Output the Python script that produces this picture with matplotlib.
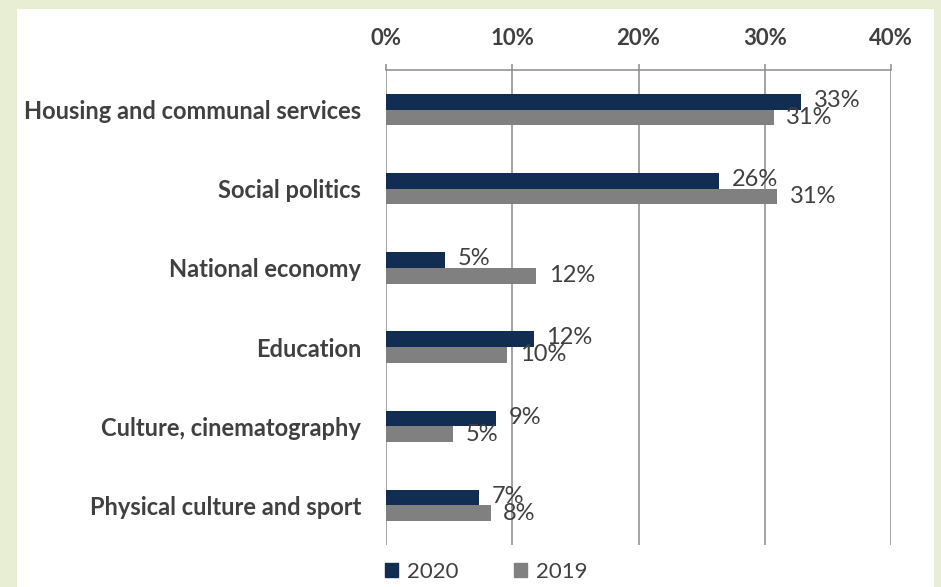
import matplotlib
matplotlib.use('Agg')
import numpy as np
from matplotlib import pyplot as plt
from matplotlib.patches import Rectangle, Patch

categories = ['Housing and communal services', 'Social politics', 'National economy',
              'Education', 'Culture, cinematography', 'Physical culture and sport']
vals_2020 = [32.9, 26.4, 4.7, 11.7, 8.7, 7.4]
vals_2019 = [30.7, 31.0, 11.9, 9.6, 5.3, 8.3]
xticks = [0, 10, 20, 30, 40]

plt.rcParams['font.family'] = ['Lato', 'DejaVu Sans']
navy = '#112d52'
grey = '#808080'
text_col = '#404040'
grid_col = '#8c8c8c'

fig = plt.figure(figsize=(9.41, 5.87), dpi=100, facecolor='#e8eed4')
# white panel
fig.patches.append(Rectangle((17/941, 0), (934-17)/941, 1-9/587, transform=fig.transFigure,
                             facecolor='white', edgecolor='none', zorder=-1))

ax = fig.add_axes([386/941, 1-545/587, (891-386)/941, (545-70)/587])
ax.set_facecolor('none')

y = np.arange(len(categories))
h = 0.198
ax.barh(y - h/2, vals_2020, height=h, color=navy, zorder=3)
ax.barh(y + h/2, vals_2019, height=h, color=grey, zorder=3)

for yi, v in zip(y - h/2, vals_2020):
    ax.annotate(f'{round(v)}%', (v, yi), xytext=(9, 1), textcoords='offset points',
                va='center', ha='left', fontsize=17, color=text_col)
for yi, v in zip(y + h/2, vals_2019):
    ax.annotate(f'{round(v)}%', (v, yi), xytext=(9, 0), textcoords='offset points',
                va='center', ha='left', fontsize=17, color=text_col)

ax.set_xlim(0, 40)
ax.set_ylim(len(categories) - 0.5, -0.5)
ax.set_xticks(xticks)
ax.set_xticklabels([f'{t}%' for t in xticks], fontweight='bold', fontsize=16, color=text_col)
ax.xaxis.tick_top()
ax.tick_params(axis='x', length=4, width=1.1, color=grid_col, pad=11)
ax.set_yticks(y)
ax.set_yticklabels(categories, fontweight='bold', fontsize=17, color=text_col)
ax.tick_params(axis='y', length=0, pad=18)
ax.grid(axis='x', color=grid_col, linewidth=1.1, zorder=1)

for s in ['left', 'right', 'bottom']:
    ax.spines[s].set_visible(False)
ax.spines['top'].set_color(grid_col)
ax.spines['top'].set_linewidth(1.1)

handles = [Patch(color=navy, label='2020'), Patch(color=grey, label='2019')]
fig.legend(handles=handles, loc='center', bbox_to_anchor=(486/941, 1-572/587), ncol=2,
           frameon=False, fontsize=16, handlelength=0.6, handleheight=0.6,
           handletextpad=0.4, columnspacing=2.5, labelcolor=text_col)

plt.savefig('out.png', dpi=100, facecolor=fig.get_facecolor())
